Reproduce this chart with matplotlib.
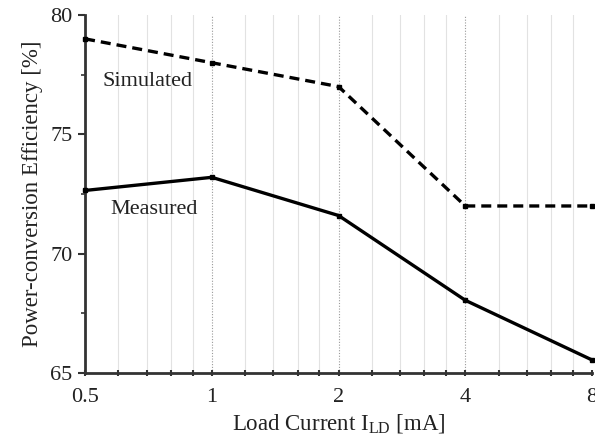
import matplotlib
matplotlib.use("Agg")
import matplotlib.pyplot as plt
from matplotlib.ticker import FixedLocator, NullFormatter

plt.rcParams['font.family'] = ['Liberation Serif', 'DejaVu Serif']
plt.rcParams['mathtext.fontset'] = 'custom'
plt.rcParams['mathtext.rm'] = 'Liberation Serif'
plt.rcParams['mathtext.it'] = 'Liberation Serif:italic'

load_current = [0.5, 1, 2, 4, 8]
simulated = [79.0, 78.0, 77.0, 72.0, 72.0]
measured = [72.65, 73.2, 71.6, 68.05, 65.55]
xtick_vals = [0.5, 1, 2, 4, 8]
xtick_labels = ['0.5', '1', '2', '4', '8']
ytick_vals = [65, 70, 75, 80]

fig = plt.figure(figsize=(5.95, 4.41), dpi=100)
ax = fig.add_axes([0.143, 0.154, 0.852, 0.812])

ax.set_xscale('log', base=2)
ax.set_xlim(0.5, 8)
ax.set_ylim(65, 80)

minor = []
for b in [0.5, 1, 2, 4]:
    for f in [1.2, 1.4, 1.6, 1.8]:
        minor.append(b * f)

for m in minor:
    ax.axvline(m, color='#e2e2e2', lw=0.8, zorder=0)
for m in [1, 2, 4]:
    ax.axvline(m, color='#9a9a9a', lw=0.8, ls=(0, (1, 1.5)), zorder=0)

ax.plot(load_current, simulated, color='black', lw=2.4, ls=(0, (3.0, 1.8)),
        marker='s', ms=3.5, clip_on=False, zorder=3)
ax.plot(load_current, measured, color='black', lw=2.4, ls='-',
        marker='s', ms=3.5, clip_on=False, zorder=3)

ax.text(0.705, 77.2, 'Simulated', fontsize=16, ha='center', va='center', color='#222222')
ax.text(0.73, 71.85, 'Measured', fontsize=16, ha='center', va='center', color='#222222')

ax.xaxis.set_major_locator(FixedLocator(xtick_vals))
ax.set_xticklabels(xtick_labels)
ax.xaxis.set_minor_locator(FixedLocator(minor))
ax.xaxis.set_minor_formatter(NullFormatter())
ax.set_yticks(ytick_vals)
ax.yaxis.set_minor_locator(FixedLocator([67.5, 72.5, 77.5]))

for s in ['top', 'right']:
    ax.spines[s].set_visible(False)
for s in ['left', 'bottom']:
    ax.spines[s].set_linewidth(2.0)
    ax.spines[s].set_color('#333333')

ax.tick_params(axis='both', which='major', labelsize=16, colors='#333333',
               labelcolor='#222222', width=1.5, length=5)
ax.tick_params(axis='x', which='both', direction='inout')
ax.tick_params(axis='x', which='minor', length=5, width=1.5, colors='#333333')
ax.tick_params(axis='y', which='minor', length=3, width=1.2, colors='#333333', direction='out')
ax.tick_params(axis='x', which='major', pad=8)
ax.tick_params(axis='y', which='major', pad=4)

ax.set_xlabel('Load Current I$_{\\mathrm{LD}}$ [mA]', fontsize=16.5, color='#222222', labelpad=4)
ax.set_ylabel('Power-conversion Efficiency [%]', fontsize=16.5, color='#222222', labelpad=5)

fig.savefig('out.png', dpi=100)
